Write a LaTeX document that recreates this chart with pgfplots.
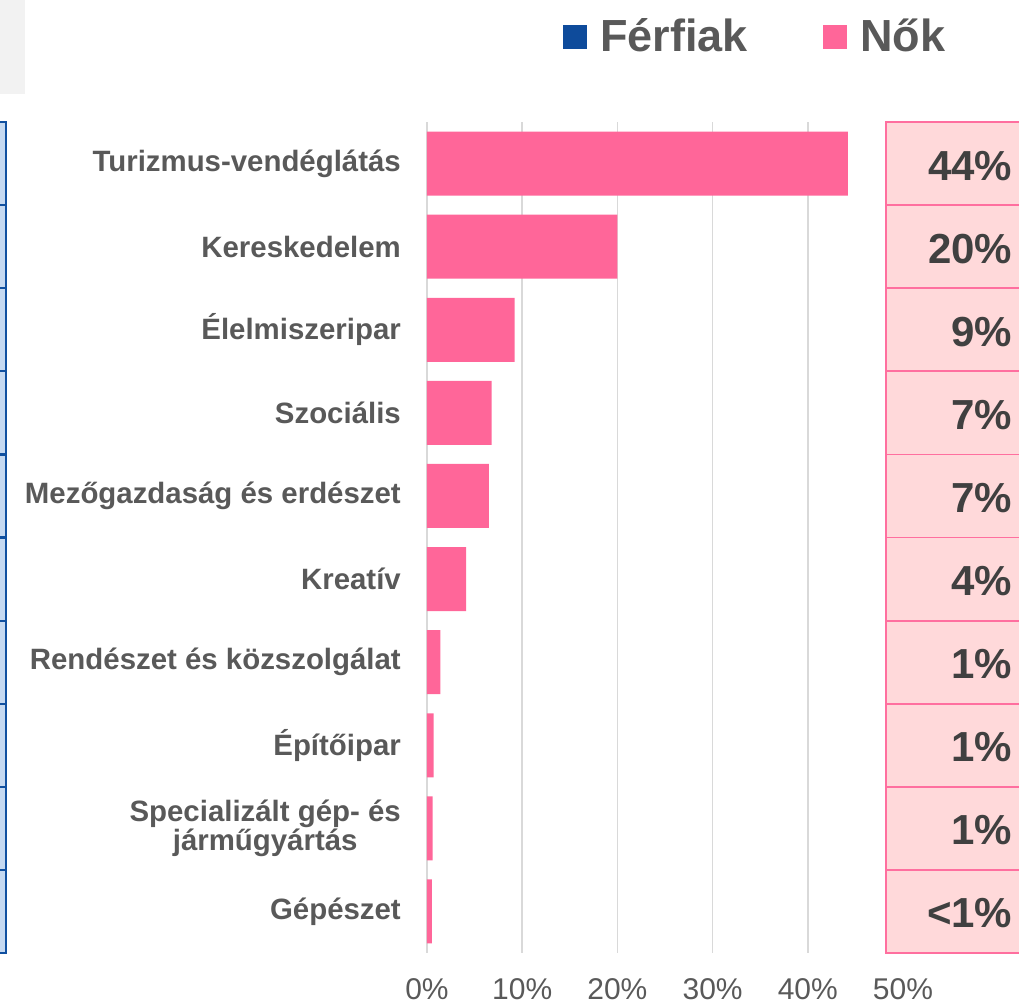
\documentclass[border=0pt]{standalone}
\usepackage{pgfplots}
\pgfplotsset{compat=1.18}
\usepackage{fontspec}
\setmainfont{Liberation Sans}
\definecolor{legblue}{HTML}{0E4B9B}
\definecolor{nokpink}{HTML}{FF6699}
\definecolor{cellpink}{HTML}{FFD9DA}
\definecolor{borderpink}{HTML}{FF6F9F}
\definecolor{cellblue}{HTML}{C5D9F1}
\definecolor{borderblue}{HTML}{1050A0}
\definecolor{labgray}{HTML}{595959}
\definecolor{numgray}{HTML}{404040}
\definecolor{gridgray}{HTML}{D9D9D9}
\definecolor{boxgray}{HTML}{F2F2F2}
\tikzset{pct/.style={anchor=east, inner sep=0pt, yshift=-2pt, text=numgray, font=\fontsize{42}{44}\selectfont\bfseries}}
\begin{document}
\begin{tikzpicture}[x=1pt,y=1pt]
% top-left grey box
\fill[boxgray] (-5,911) rectangle (25,1010);
% legend
\fill[legblue] (563,956) rectangle (587,980);
\node[anchor=base west, inner sep=0, text=labgray, font=\fontsize{45}{48}\selectfont\bfseries] at (600,953) {Férfiak};
\fill[nokpink] (823,956) rectangle (847,980);
\node[anchor=base west, inner sep=0, text=labgray, font=\fontsize{45}{48}\selectfont\bfseries] at (860,953) {Nők};
\begin{axis}[
  at={(427pt,52pt)}, anchor=south west,
  scale only axis, width=476pt, height=831pt,
  xmin=0, xmax=50, ymin=-0.5, ymax=9.5,
  enlargelimits=false,
  y dir=reverse,
  clip=false,
  axis line style={draw=none},
  tick style={draw=none},
  xmajorgrids, grid style={color=gridgray, line width=1.6pt},
  xtick={0,10,20,30,40,50},
  xticklabels={0\%,10\%,20\%,30\%,40\%,50\%},
  xticklabel style={anchor=base, inner sep=0pt, yshift=-46.5pt, text=labgray, font=\fontsize{30}{32}\selectfont},
  ytick={0,1,2,3,4,5,6,7,8,9},
  yticklabels={Turizmus-vendéglátás, Kereskedelem, Élelmiszeripar, Szociális, Mezőgazdaság és erdészet, Kreatív, Rendészet és közszolgálat, Építőipar, {Specializált gép- és\\járműgyártás}, Gépészet},
  yticklabel style={anchor=east, inner sep=0pt, xshift=-26pt, align=center, text=labgray, font=\fontsize{29.4}{29}\selectfont\bfseries},
]
\addplot[xbar, bar width=64pt, fill=nokpink, draw=none] coordinates {
 (44.2,0) (20.0,1) (9.2,2) (6.8,3) (6.5,4) (4.1,5) (1.4,6) (0.7,7) (0.6,8) (0.5,9)};
\pgfplotsinvokeforeach{0,...,9}{
  \draw[fill=cellpink, draw=borderpink, line width=1.8pt] (axis cs:48.2,#1-0.5) rectangle (axis cs:75,#1+0.5);
  \draw[fill=cellblue, draw=borderblue, line width=2.2pt] (axis cs:-60,#1-0.5) rectangle (axis cs:-44.2,#1+0.5);
}
\node[pct] at (axis cs:61.5,0) {44\%};
\node[pct] at (axis cs:61.5,1) {20\%};
\node[pct] at (axis cs:61.5,2) {9\%};
\node[pct] at (axis cs:61.5,3) {7\%};
\node[pct] at (axis cs:61.5,4) {7\%};
\node[pct] at (axis cs:61.5,5) {4\%};
\node[pct] at (axis cs:61.5,6) {1\%};
\node[pct] at (axis cs:61.5,7) {1\%};
\node[pct] at (axis cs:61.5,8) {1\%};
\node[pct] at (axis cs:61.5,9) {<1\%};
\end{axis}
\pgfresetboundingbox
\path[use as bounding box] (0,0) rectangle (1019,1005);
\end{tikzpicture}
\end{document}
